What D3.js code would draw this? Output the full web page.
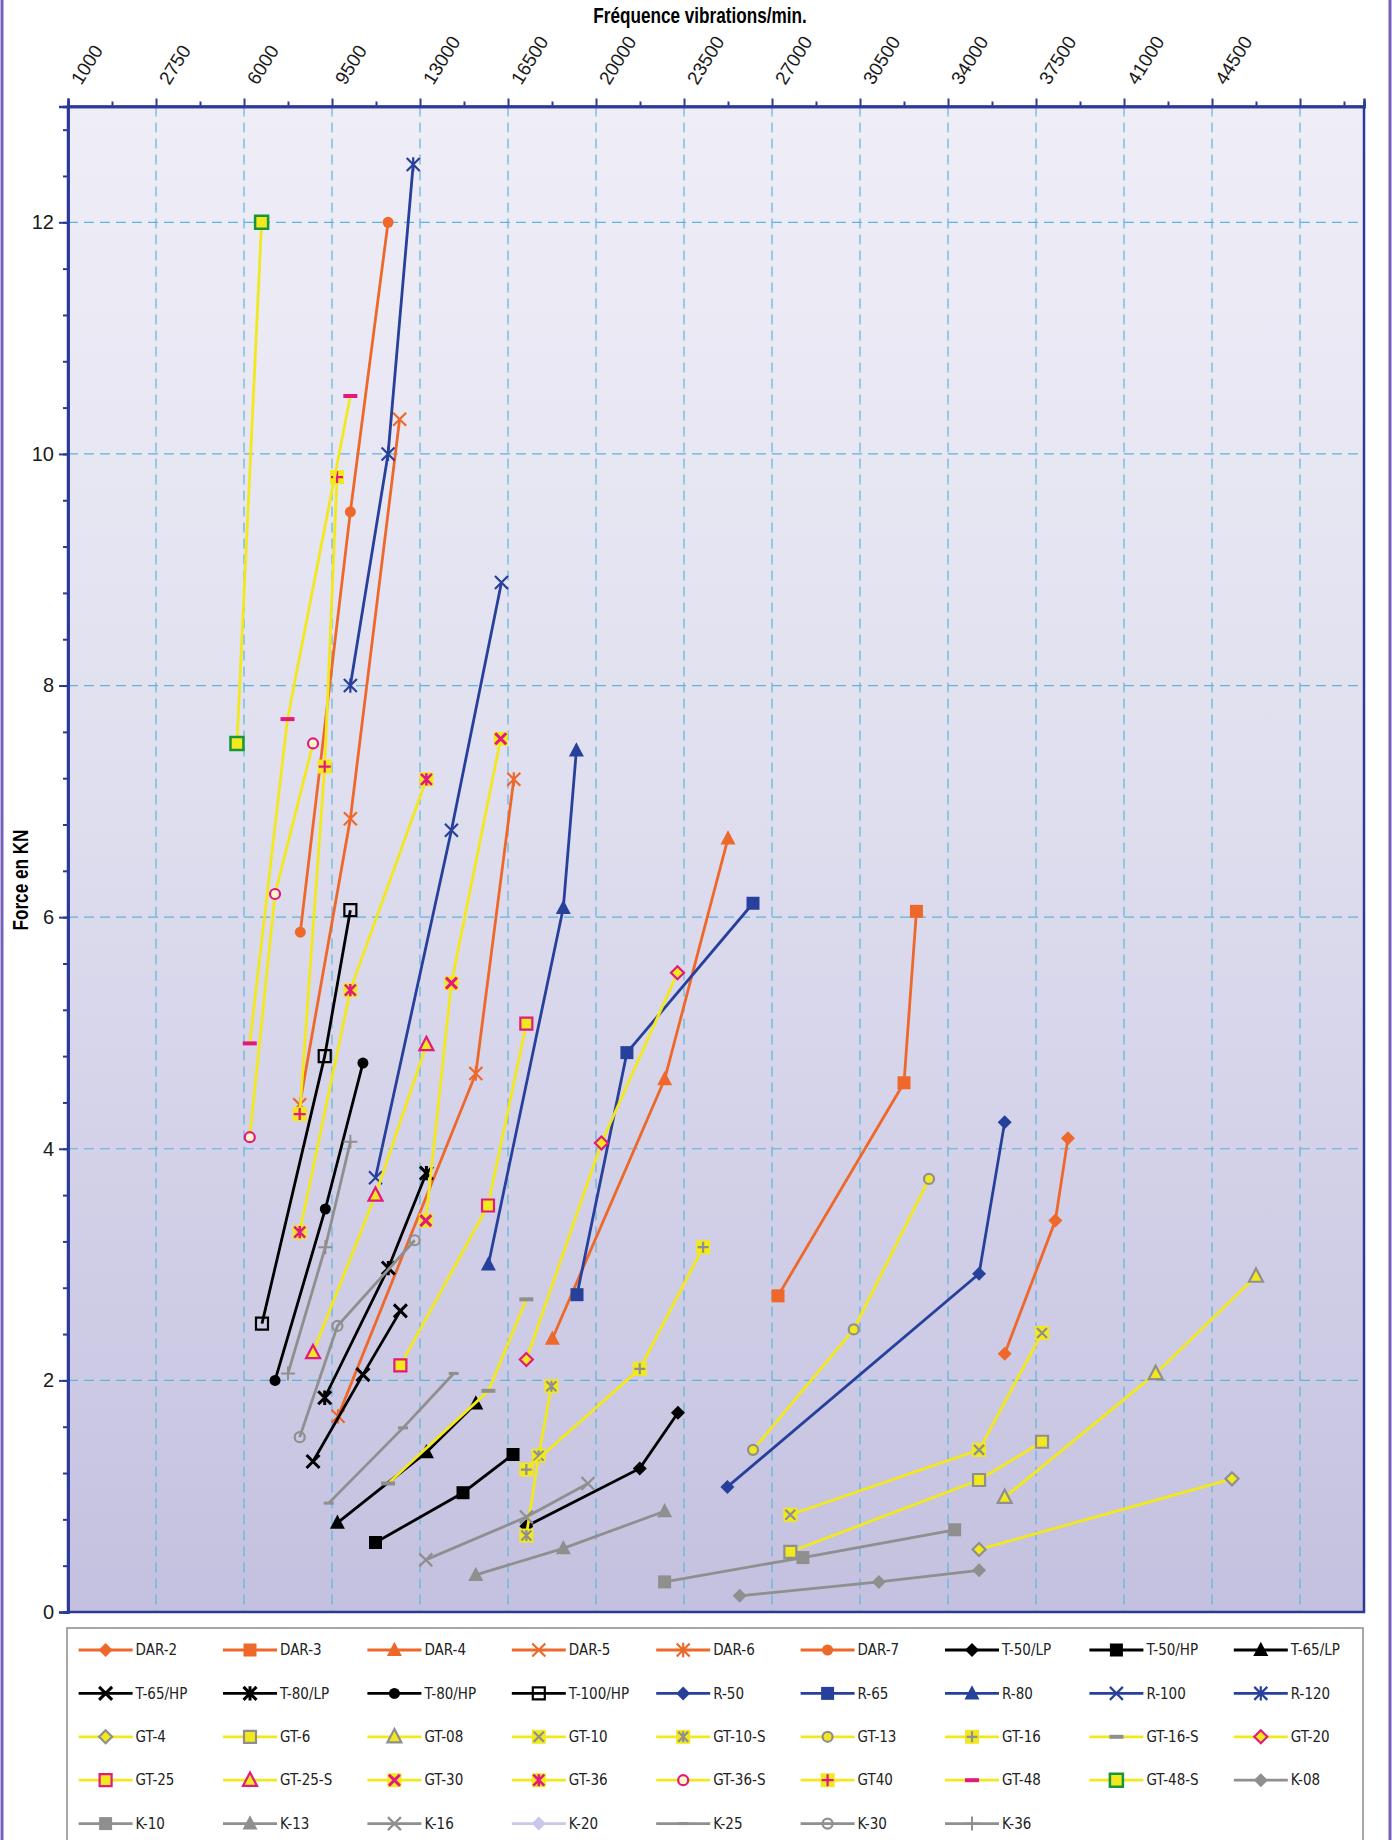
<!DOCTYPE html>
<html>
<head>
<meta charset="utf-8">
<script src="https://cdn.jsdelivr.net/npm/d3@7"></script>
<style>
    body { margin: 0; background: #fff; }
    .tick-label { font-family: "Liberation Sans", Arial, sans-serif; font-size: 19px; fill: #1a1a1a; }
    .y-label { font-size: 20px; }
    .axis-title { font-family: "Liberation Sans", Arial, sans-serif; font-weight: bold; font-size: 22px; fill: #000; }
    .legend-label { font-family: "DejaVu Sans Condensed", "Liberation Sans Narrow", "DejaVu Sans", sans-serif; font-size: 15px; fill: #222; }
</style>
</head>
<body>
<div id="chart"></div>
<script>

// axis tick labels
const xTickLabels = [1000, 2750, 6000, 9500, 13000, 16500, 20000, 23500, 27000, 30500, 34000, 37500, 41000, 44500];
const yTickLabels = [0, 2, 4, 6, 8, 10, 12];

// series, legend order
const seriesNames = [
    "DAR-2", "DAR-3", "DAR-4", "DAR-5", "DAR-6", "DAR-7", "T-50/LP", "T-50/HP", "T-65/LP",
    "T-65/HP", "T-80/LP", "T-80/HP", "T-100/HP", "R-50", "R-65", "R-80", "R-100", "R-120",
    "GT-4", "GT-6", "GT-08", "GT-10", "GT-10-S", "GT-13", "GT-16", "GT-16-S", "GT-20",
    "GT-25", "GT-25-S", "GT-30", "GT-36", "GT-36-S", "GT40", "GT-48", "GT-48-S", "K-08",
    "K-10", "K-13", "K-16", "K-20", "K-25", "K-30", "K-36"
];

// values: [vibrations/min, force kN]
const DAR_2 = [[36255, 2.23], [38270, 3.38], [38770, 4.09]];
const DAR_3 = [[27240, 2.73], [32250, 4.57], [32745, 6.05]];
const DAR_4 = [[18265, 2.36], [22730, 4.6], [25250, 6.68]];
const DAR_5 = [[8215, 4.38], [10230, 6.85], [12190, 10.3]];
const DAR_6 = [[9740, 1.69], [15220, 4.65], [16730, 7.19]];
const DAR_7 = [[8240, 5.87], [10230, 9.5], [11730, 12.0]];
const T_50_LP = [[17230, 0.74], [21740, 1.24], [23260, 1.72]];
const T_50_HP = [[11230, 0.6], [14710, 1.03], [16700, 1.36]];
const T_65_LP = [[9715, 0.77], [13255, 1.38], [15220, 1.8]];
const T_65_HP = [[8745, 1.3], [10730, 2.05], [12220, 2.6]];
const T_80_LP = [[9210, 1.85], [11740, 2.97], [13255, 3.79]];
const T_80_HP = [[7235, 2.0], [9235, 3.48], [10730, 4.74]];
const T_100_HP = [[6715, 2.49], [9210, 4.8], [10230, 6.06]];
const R_50 = [[25225, 1.08], [35235, 2.92], [36255, 4.23]];
const R_65 = [[19245, 2.74], [21230, 4.83], [26245, 6.12]];
const R_80 = [[15720, 3.0], [18700, 6.08], [19220, 7.44]];
const R_100 = [[11230, 3.75], [14250, 6.75], [16240, 8.89]];
const R_120 = [[10230, 8.0], [11730, 10.0], [12730, 12.5]];
const GT_4 = [[35235, 0.54], [45295, 1.15]];
const GT_6 = [[27730, 0.52], [35235, 1.14], [37740, 1.47]];
const GT_08 = [[36255, 0.99], [42260, 2.06], [46250, 2.9]];
const GT_10 = [[27730, 0.84], [35235, 1.4], [37740, 2.41]];
const GT_10_S = [[17230, 0.66], [17720, 1.35], [18225, 1.95]];
const GT_13 = [[26245, 1.4], [30250, 2.44], [33245, 3.74]];
const GT_16 = [[17230, 1.23], [21740, 2.1], [24260, 3.15]];
const GT_16_S = [[11730, 1.11], [15720, 1.91], [17230, 2.7]];
const GT_20 = [[17230, 2.18], [20215, 4.05], [23240, 5.52]];
const GT_25 = [[12220, 2.13], [15705, 3.51], [17230, 5.08]];
const GT_25_S = [[8745, 2.24], [11230, 3.6], [13255, 4.9]];
const GT_30 = [[13230, 3.38], [14250, 5.43], [16210, 7.54]];
const GT_36 = [[8215, 3.28], [10230, 5.37], [13255, 7.19]];
const GT_36_S = [[6230, 4.1], [7235, 6.2], [8745, 7.5]];
const GT40 = [[8215, 4.3], [9210, 7.3], [9700, 9.8]];
const GT_48 = [[6230, 4.91], [7730, 7.71], [10230, 10.5]];
const GT_48_S = [[5740, 7.5], [6700, 12.0]];
const K_08 = [[25715, 0.14], [31250, 0.26], [35235, 0.36]];
const K_10 = [[22730, 0.26], [28230, 0.47], [34265, 0.71]];
const K_13 = [[15220, 0.32], [18700, 0.55], [22730, 0.87]];
const K_16 = [[13230, 0.45], [17230, 0.82], [19680, 1.11]];
const K_20 = [];
const K_25 = [[9370, 0.94], [12325, 1.59], [14340, 2.06]];
const K_30 = [[8215, 1.51], [9715, 2.47], [12790, 3.21]];
const K_36 = [[7750, 2.06], [9235, 3.15], [10230, 4.06]];

const seriesValues = [
    DAR_2, DAR_3, DAR_4, DAR_5, DAR_6, DAR_7, T_50_LP, T_50_HP, T_65_LP,
    T_65_HP, T_80_LP, T_80_HP, T_100_HP, R_50, R_65, R_80, R_100, R_120,
    GT_4, GT_6, GT_08, GT_10, GT_10_S, GT_13, GT_16, GT_16_S, GT_20,
    GT_25, GT_25_S, GT_30, GT_36, GT_36_S, GT40, GT_48, GT_48_S, K_08,
    K_10, K_13, K_16, K_20, K_25, K_30, K_36
];

const ORANGE = "#ee682b", BLACK = "#000000", BLUE = "#27409b", YELLOW = "#f2e81e",
      GRAY = "#8f8f8f", MAGENTA = "#e2197e", GREEN = "#16963a", LAVENDER = "#c9c7ea",
      AXIS = "#2b3a98", GRID = "#62b3d9";

// marker look for each series
function styleFor(name) {
    let fam = name.startsWith("DAR") ? "DAR" : name.startsWith("T-") ? "T" :
              name.startsWith("R-") ? "R" : name.startsWith("GT") ? "GT" : "K";
    let lineColor = {DAR: ORANGE, T: BLACK, R: BLUE, GT: YELLOW, K: GRAY}[fam];
    let solid = {DAR: ORANGE, T: BLACK, R: BLUE, K: GRAY}[fam];
    let m = {
        "DAR-2": {shape: "diamond", r: 7, fill: solid},
        "DAR-3": {shape: "square", r: 6.5, fill: solid},
        "DAR-4": {shape: "triangle", r: 7.5, fill: solid},
        "DAR-5": {shape: "x", r: 6.5, stroke: solid},
        "DAR-6": {shape: "asterisk", r: 6.5, stroke: solid},
        "DAR-7": {shape: "circle", r: 5.5, fill: solid},
        "T-50/LP": {shape: "diamond", r: 7, fill: solid},
        "T-50/HP": {shape: "square", r: 6.5, fill: solid},
        "T-65/LP": {shape: "triangle", r: 7.5, fill: solid},
        "T-65/HP": {shape: "x", r: 6.5, stroke: solid, sw: 3},
        "T-80/LP": {shape: "asterisk", r: 6.5, stroke: solid, sw: 3},
        "T-80/HP": {shape: "circle", r: 5.5, fill: solid},
        "T-100/HP": {shape: "square", r: 6, stroke: solid, sw: 2.2},
        "R-50": {shape: "diamond", r: 7, fill: solid},
        "R-65": {shape: "square", r: 6.5, fill: solid},
        "R-80": {shape: "triangle", r: 7.5, fill: solid},
        "R-100": {shape: "x", r: 6.5, stroke: solid},
        "R-120": {shape: "asterisk", r: 6.5, stroke: solid},
        "GT-4": {shape: "diamond", r: 6.5, fill: YELLOW, stroke: GRAY},
        "GT-6": {shape: "square", r: 6, fill: YELLOW, stroke: GRAY},
        "GT-08": {shape: "triangle", r: 7, fill: YELLOW, stroke: GRAY},
        "GT-10": {shape: "x", r: 5, stroke: GRAY, bg: true},
        "GT-10-S": {shape: "asterisk", r: 5, stroke: GRAY, bg: true},
        "GT-13": {shape: "circle", r: 5, fill: YELLOW, stroke: GRAY},
        "GT-16": {shape: "plus", r: 5.5, stroke: GRAY, bg: true},
        "GT-16-S": {shape: "dash", r: 7, stroke: GRAY, sw: 4},
        "GT-20": {shape: "diamond", r: 6.5, fill: YELLOW, stroke: MAGENTA},
        "GT-25": {shape: "square", r: 6, fill: YELLOW, stroke: MAGENTA},
        "GT-25-S": {shape: "triangle", r: 7, fill: YELLOW, stroke: MAGENTA},
        "GT-30": {shape: "x", r: 5.5, stroke: MAGENTA, bg: true, sw: 3},
        "GT-36": {shape: "asterisk", r: 5.5, stroke: MAGENTA, bg: true, sw: 2.5},
        "GT-36-S": {shape: "circle", r: 5, fill: "#fbf7c8", stroke: MAGENTA},
        "GT40": {shape: "plus", r: 6, stroke: MAGENTA, bg: true},
        "GT-48": {shape: "dash", r: 7, stroke: MAGENTA, sw: 4},
        "GT-48-S": {shape: "square", r: 6.5, fill: YELLOW, stroke: GREEN, sw: 2.5},
        "K-08": {shape: "diamond", r: 7, fill: solid},
        "K-10": {shape: "square", r: 6.5, fill: solid},
        "K-13": {shape: "triangle", r: 7.5, fill: solid},
        "K-16": {shape: "x", r: 6.5, stroke: solid},
        "K-20": {shape: "diamond", r: 7, fill: LAVENDER},
        "K-25": {shape: "dash", r: 5, stroke: solid, sw: 3},
        "K-30": {shape: "circle", r: 5, stroke: solid},
        "K-36": {shape: "plus", r: 7, stroke: solid, sw: 2}
    }[name];
    if (name === "K-20") lineColor = LAVENDER;
    return {lineColor: lineColor, marker: m};
}

function shapePath(shape, r) {
    switch (shape) {
        case "diamond": return `M0,${-r}L${r},0L0,${r}L${-r},0Z`;
        case "square": return `M${-r},${-r}H${r}V${r}H${-r}Z`;
        case "triangle": return `M0,${-r * 1.1}L${r},${r * 0.8}L${-r},${r * 0.8}Z`;
        case "circle": return `M${r},0A${r},${r} 0 1,1 ${-r},0A${r},${r} 0 1,1 ${r},0Z`;
        case "x": return `M${-r},${-r}L${r},${r}M${-r},${r}L${r},${-r}`;
        case "asterisk": return `M${-r},${-r}L${r},${r}M${-r},${r}L${r},${-r}M0,${-r * 1.1}V${r * 1.1}`;
        case "plus": return `M${-r},0H${r}M0,${-r}V${r}`;
        case "dash": return `M${-r},0H${r}`;
    }
}

function drawMarker(g, m) {
    if (m.bg) {
        g.append("rect")
            .attr("x", -7).attr("y", -7)
            .attr("width", 14).attr("height", 14)
            .attr("fill", YELLOW);
    }
    g.append("path")
        .attr("d", shapePath(m.shape, m.r))
        .attr("fill", m.fill || "none")
        .attr("stroke", m.stroke || "none")
        .attr("stroke-width", m.sw || 2.2);
}

class VibroChart {

    constructor(parentElement, names, values) {
        this.parentElement = parentElement;
        this.names = names;
        this.values = values;
        this.initVis();
    }

    initVis() {
        let vis = this;

        vis.width = 1392;
        vis.height = 1840;
        vis.plot = {left: 68, top: 106.5, right: 1364, bottom: 1612};

        vis.svg = d3.select("#" + vis.parentElement).append("svg")
            .attr("width", vis.width)
            .attr("height", vis.height);

        // plot background gradient
        let grad = vis.svg.append("defs").append("linearGradient")
            .attr("id", "plotBg")
            .attr("x1", 0).attr("y1", 0).attr("x2", 0).attr("y2", 1);
        grad.append("stop").attr("offset", "0%").attr("stop-color", "#efeef7");
        grad.append("stop").attr("offset", "45%").attr("stop-color", "#e0dfef");
        grad.append("stop").attr("offset", "100%").attr("stop-color", "#c4c1e0");

        // page side borders
        vis.svg.append("line").attr("x1", 2).attr("x2", 2).attr("y1", 0).attr("y2", vis.height)
            .attr("stroke", "#7561bb").attr("stroke-width", 3);
        vis.svg.append("line").attr("x1", vis.width - 2).attr("x2", vis.width - 2).attr("y1", 0).attr("y2", vis.height)
            .attr("stroke", "#7561bb").attr("stroke-width", 3);

        let p = vis.plot;
        vis.svg.append("rect")
            .attr("x", p.left).attr("y", p.top)
            .attr("width", p.right - p.left).attr("height", p.bottom - p.top)
            .attr("fill", "url(#plotBg)");

        // x: evenly spaced ticks, labels not evenly spaced in value
        vis.xTicks = xTickLabels.concat([48000]);
        let step = 88;
        let xDomain = vis.xTicks.concat([48000 + (p.right - p.left - 14 * step) / step * 3500]);
        vis.x = d3.scaleLinear()
            .domain(xDomain)
            .range(xDomain.map((d, i) => i < vis.xTicks.length ? p.left + i * step : p.right));

        vis.y = d3.scaleLinear()
            .domain([0, 13])
            .range([p.bottom, p.top]);

        vis.wrangleData();
    }

    wrangleData() {
        let vis = this;
        vis.displayData = vis.names.map((name, i) => ({name: name, values: vis.values[i], style: styleFor(name)}));
        vis.updateVis();
    }

    updateVis() {
        let vis = this;
        let p = vis.plot;

        // grid
        vis.svg.append("g").selectAll("line")
            .data(vis.xTicks.slice(1))
            .join("line")
            .attr("x1", d => vis.x(d)).attr("x2", d => vis.x(d))
            .attr("y1", p.top).attr("y2", p.bottom)
            .attr("stroke", GRID).attr("stroke-width", 1.2)
            .attr("stroke-dasharray", "10,6");

        vis.svg.append("g").selectAll("line")
            .data(yTickLabels.slice(1))
            .join("line")
            .attr("x1", p.left).attr("x2", p.right)
            .attr("y1", d => vis.y(d)).attr("y2", d => vis.y(d))
            .attr("stroke", GRID).attr("stroke-width", 1.2)
            .attr("stroke-dasharray", "10,6");

        // frame
        vis.svg.append("rect")
            .attr("x", p.left).attr("y", p.top)
            .attr("width", p.right - p.left).attr("height", p.bottom - p.top)
            .attr("fill", "none").attr("stroke", AXIS).attr("stroke-width", 2.5);

        // x axis (top)
        let xMinor = d3.pairs(vis.xTicks).map(([a, b]) => (a + b) / 2).concat([48000 + 1750]);
        let xMinorAxis = vis.svg.append("g")
            .attr("transform", `translate(0,${p.top})`)
            .call(d3.axisTop(vis.x).tickValues(xMinor).tickSize(5).tickFormat(""));
        let xAxis = vis.svg.append("g")
            .attr("transform", `translate(0,${p.top})`)
            .call(d3.axisTop(vis.x).tickValues(vis.xTicks).tickSize(8)
                .tickFormat(d => xTickLabels.includes(d) ? d : ""));
        xAxis.selectAll("text")
            .attr("class", "tick-label")
            .attr("text-anchor", "start")
            .attr("transform", "translate(7,-24) rotate(-58)")
            .attr("x", 0).attr("y", 0).attr("dy", "0.35em");

        // y axis
        let yMinorAxis = vis.svg.append("g")
            .attr("transform", `translate(${p.left},0)`)
            .call(d3.axisLeft(vis.y).tickValues(d3.range(0, 13.01, 0.4)).tickSize(5).tickFormat(""));
        let yAxis = vis.svg.append("g")
            .attr("transform", `translate(${p.left},0)`)
            .call(d3.axisLeft(vis.y).tickValues(yTickLabels).tickSize(9));
        yAxis.selectAll("text").attr("class", "tick-label y-label").attr("x", -14);

        [xMinorAxis, xAxis, yMinorAxis, yAxis].forEach(ax => {
            ax.select(".domain").attr("stroke", AXIS).attr("stroke-width", 2.5);
            ax.selectAll(".tick line").attr("stroke", AXIS).attr("stroke-width", 2);
        });

        // titles (narrowed to look condensed)
        vis.svg.append("text")
            .attr("class", "axis-title")
            .attr("transform", "translate(700,23) scale(0.78,1)")
            .attr("text-anchor", "middle")
            .text("Fréquence vibrations/min.");

        vis.svg.append("text")
            .attr("class", "axis-title")
            .attr("transform", "translate(28,880) rotate(-90) scale(0.78,1)")
            .attr("text-anchor", "middle")
            .text("Force en KN");

        // series lines + markers
        let line = d3.line().x(d => vis.x(d[0])).y(d => vis.y(d[1]));

        let series = vis.svg.append("g").selectAll(".series")
            .data(vis.displayData)
            .join("g")
            .attr("class", "series");

        series.append("path")
            .attr("d", d => line(d.values))
            .attr("fill", "none")
            .attr("stroke", d => d.style.lineColor)
            .attr("stroke-width", 2.8);

        series.each(function (d) {
            d3.select(this).selectAll(".pt")
                .data(d.values)
                .join("g")
                .attr("class", "pt")
                .attr("transform", v => `translate(${vis.x(v[0])},${vis.y(v[1])})`)
                .each(function () { drawMarker(d3.select(this), d.style.marker); });
        });

        // legend
        let lg = vis.svg.append("g");
        lg.append("rect")
            .attr("x", 67).attr("y", 1628)
            .attr("width", 1296).attr("height", 260)
            .attr("fill", "#fff").attr("stroke", "#8a8a8a").attr("stroke-width", 1.5);

        let items = lg.selectAll(".item")
            .data(vis.displayData)
            .join("g")
            .attr("class", "item")
            .attr("transform", (d, i) => `translate(${78.6 + (i % 9) * 144.4},${1650 + Math.floor(i / 9) * 43.4})`);

        items.append("line")
            .attr("x1", 0).attr("x2", 54)
            .attr("stroke", d => d.style.lineColor)
            .attr("stroke-width", 2.8);

        items.each(function (d) {
            let g = d3.select(this).append("g").attr("transform", "translate(27,0)");
            drawMarker(g, d.style.marker);
        });

        items.append("text")
            .attr("class", "legend-label")
            .attr("x", 57).attr("y", 0).attr("dy", "0.35em")
            .text(d => d.name);
    }
}

new VibroChart("chart", seriesNames, seriesValues);

</script>
</body>
</html>
